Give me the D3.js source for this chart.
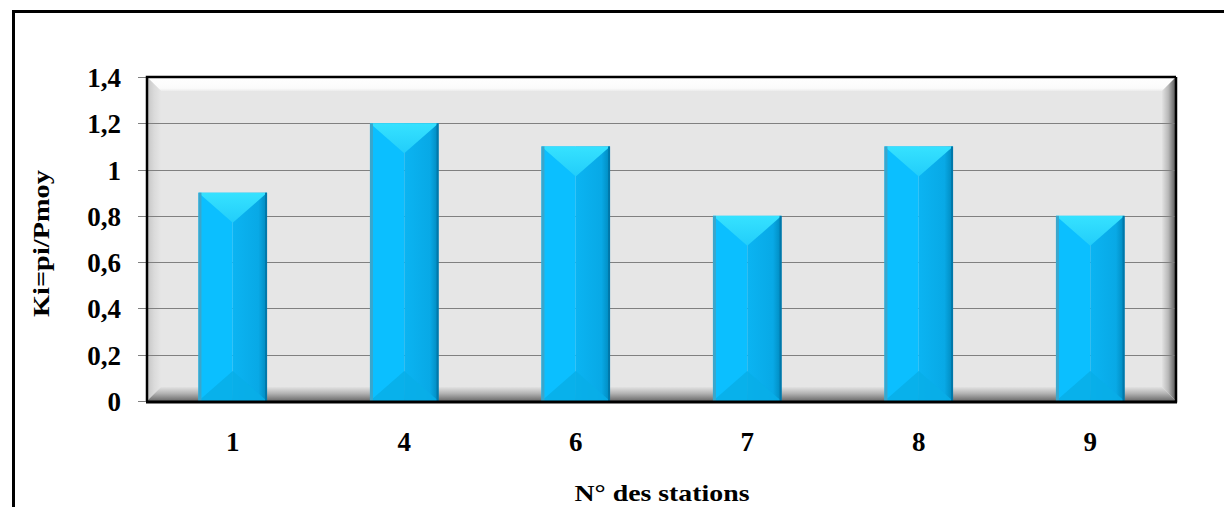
<!DOCTYPE html>
<html>
<head>
<meta charset="utf-8">
<script src="https://cdn.jsdelivr.net/npm/d3@7"></script>
<style>
  html, body { margin: 0; padding: 0; background: #fff; }
  svg { display: block; }
  text { font-family: "Liberation Serif", "Times New Roman", serif; font-weight: bold; fill: #000; }
</style>
</head>
<body>
<svg id="chart" width="1224" height="507"></svg>
<script>
// Station numbers and their Ki coefficient (pi / Pmoy)
const stations = ["1", "4", "6", "7", "8", "9"];
const kiValues = [0.9, 1.2, 1.1, 0.8, 1.1, 0.8];
const yTicks = [0, 0.2, 0.4, 0.6, 0.8, 1, 1.2, 1.4];
const yTickLabels = ["0", "0,2", "0,4", "0,6", "0,8", "1", "1,2", "1,4"];
const yTitle = "Ki=pi/Pmoy";
const xTitle = "N° des stations";

const W = 1224, H = 507;
const plot = { left: 147, right: 1176, top: 77, bottom: 401 };
const bevel = 14;

const svg = d3.select("#chart");
const defs = svg.append("defs");

function linGrad(id, x1, y1, x2, y2, stops) {
  const g = defs.append("linearGradient").attr("id", id)
    .attr("x1", x1).attr("y1", y1).attr("x2", x2).attr("y2", y2);
  stops.forEach(([o, c]) => g.append("stop").attr("offset", o).attr("stop-color", c));
}
linGrad("gTop", 0, 0, 0, 1, [[0, "#ffffff"], [0.8, "#fbfbfb"], [1, "#ececec"]]);
linGrad("gLeft", 0, 0, 1, 0, [[0, "#c4c4c4"], [0.5, "#dadada"], [1, "#e6e6e6"]]);
linGrad("gRight", 0, 0, 1, 0, [[0, "#e2e2e2"], [0.45, "#b8b8b8"], [1, "#505050"]]);
linGrad("gBottom", 0, 0, 0, 1, [[0, "#e2e2e2"], [0.45, "#b4b4b4"], [1, "#6a6a6a"]]);
linGrad("gBarRight", 0, 0, 1, 0, [[0, "#0bb4f2"], [0.75, "#08a9e6"], [1, "#0088bc"]]);
linGrad("gBarTop", 0, 0, 0, 1, [[0, "#36e2ff"], [1, "#22cdfa"]]);

// Outer frame
svg.append("path")
  .attr("d", `M13.5,${H} V11.5 H${W}`)
  .attr("fill", "none").attr("stroke", "#000").attr("stroke-width", 3);

// Scales
const x = d3.scaleBand().domain(stations).range([plot.left, plot.right])
  .paddingInner(0.6).paddingOuter(0.3);
const y = d3.scaleLinear().domain([0, 1.4]).range([plot.bottom, plot.top]);

// Plot area with bevelled back wall
const L = plot.left, R = plot.right, T = plot.top, B = plot.bottom, b = bevel;
svg.append("rect").attr("x", L).attr("y", T).attr("width", R - L).attr("height", B - T).attr("fill", "#e6e6e6");
svg.append("polygon").attr("points", `${L},${T} ${R},${T} ${R - b},${T + b} ${L + b},${T + b}`).attr("fill", "url(#gTop)");
svg.append("polygon").attr("points", `${L},${T} ${L + b},${T + b} ${L + b},${B - b} ${L},${B}`).attr("fill", "url(#gLeft)");
svg.append("polygon").attr("points", `${R},${T} ${R - b},${T + b} ${R - b},${B - b} ${R},${B}`).attr("fill", "url(#gRight)");
svg.append("polygon").attr("points", `${L},${B} ${L + b},${B - b} ${R - b},${B - b} ${R},${B}`).attr("fill", "url(#gBottom)");

// Gridlines and tick marks
const yAxis = d3.axisLeft(y).tickValues(yTicks)
  .tickSize(-(R - L)).tickSizeOuter(0).tickFormat((d, i) => yTickLabels[i]);
const gy = svg.append("g").attr("transform", `translate(${L},0)`).call(yAxis);
gy.select(".domain").remove();
gy.selectAll(".tick line").attr("stroke", "#808080").attr("stroke-width", 1)
  .attr("x1", -9).attr("shape-rendering", "crispEdges");
gy.selectAll(".tick text").attr("x", -26).attr("dy", "0.35em")
  .style("font-size", "27px").style("font-family", "'Liberation Serif', serif").style("font-weight", "bold");

// Bars with bevelled faces
const depth = 30;
const bars = svg.append("g").selectAll("g.bar").data(stations.map((s, i) => ({ s, v: kiValues[i] })))
  .join("g").attr("class", "bar");
bars.each(function (d) {
  const g = d3.select(this);
  const x0 = x(d.s), w = x.bandwidth(), x1 = x0 + w, cx = x0 + w / 2;
  const top = y(d.v), bot = y(0);
  g.append("rect").attr("x", x0).attr("y", top).attr("width", w / 2).attr("height", bot - top).attr("fill", "#0bbfff");
  g.append("rect").attr("x", cx).attr("y", top).attr("width", w / 2).attr("height", bot - top).attr("fill", "url(#gBarRight)");
  g.append("polygon").attr("points", `${x0},${top} ${x1},${top} ${cx},${top + depth}`).attr("fill", "url(#gBarTop)");
  g.append("polygon").attr("points", `${x0},${bot} ${cx},${bot - depth} ${x1},${bot}`).attr("fill", "#08aee8").attr("opacity", 0.85);
  g.append("rect").attr("x", x0).attr("y", top).attr("width", 3).attr("height", bot - top).attr("fill", "#3aa6cc");
  g.append("rect").attr("x", x1 - 2).attr("y", top).attr("width", 2).attr("height", bot - top).attr("fill", "#0078aa");
});

// Plot border
svg.append("path").attr("d", `M${L},${B} V${T} H${R}`).attr("fill", "none").attr("stroke", "#000").attr("stroke-width", 2.5);
svg.append("path").attr("d", `M${R},${T} V${B + 1.5}`).attr("fill", "none").attr("stroke", "#000").attr("stroke-width", 2.5);
svg.append("path").attr("d", `M${L - 1},${B + 1} H${R + 1}`).attr("fill", "none").attr("stroke", "#000").attr("stroke-width", 3);

// Category labels
const xAxis = d3.axisBottom(x).tickSize(0);
const gx = svg.append("g").attr("transform", `translate(0,${B})`).call(xAxis);
gx.select(".domain").remove();
gx.selectAll(".tick text").attr("y", 50).attr("dy", 0)
  .style("font-size", "27px").style("font-family", "'Liberation Serif', serif").style("font-weight", "bold");

// Axis titles
svg.append("text")
  .attr("transform", `translate(49,${243.5}) rotate(-90)`)
  .attr("text-anchor", "middle")
  .attr("textLength", 147).attr("lengthAdjust", "spacingAndGlyphs")
  .style("font-size", "24px")
  .text(yTitle);
svg.append("text")
  .attr("x", 662).attr("y", 501)
  .attr("text-anchor", "middle")
  .attr("textLength", 175).attr("lengthAdjust", "spacingAndGlyphs")
  .style("font-size", "23px")
  .text(xTitle);
</script>
</body>
</html>
